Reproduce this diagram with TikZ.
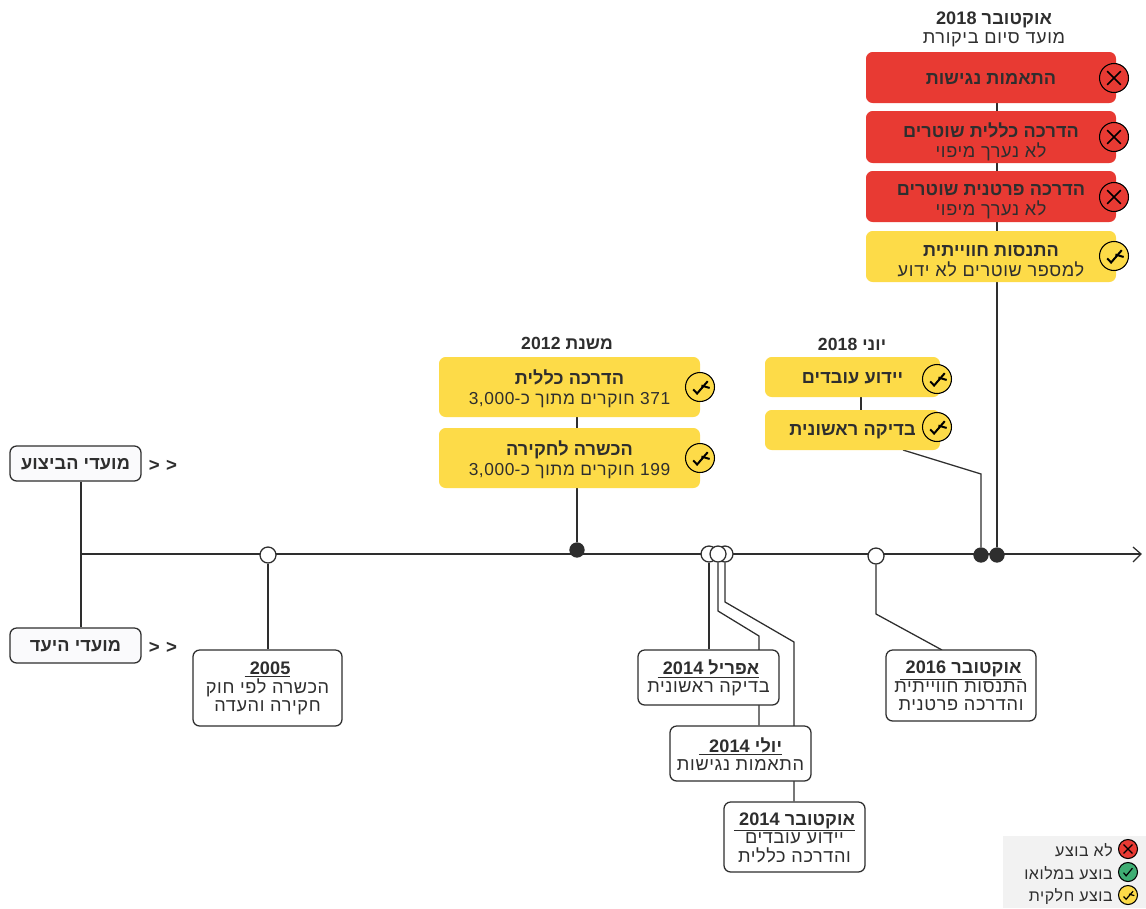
\documentclass[tikz,border=0pt]{standalone}
\usepackage{fontspec}
\setmainfont{Liberation Sans}
\newfontfamily\hebfont[Script=Hebrew,LetterSpace=3.5,BoldFeatures={LetterSpace=0.5}]{Liberation Sans}
\TeXXeTstate=1
\usetikzlibrary{calc,backgrounds}
\definecolor{ink}{HTML}{2E2E2E}
\definecolor{cred}{HTML}{E83A33}
\definecolor{cyel}{HTML}{FDDB48}
\definecolor{cgrn}{HTML}{3FAE73}
\definecolor{leg}{HTML}{F2F2F2}
\definecolor{soft}{HTML}{FAFAFC}
\newcommand{\hb}[1]{\beginR #1\endR}
\newcommand{\yr}[1]{\beginL #1\endL}
\newcommand{\ul}[1]{\underline{\beginR #1\endR}}
\newcommand{\smallline}{\mdseries\fontsize{13}{15}\selectfont}
\tikzset{
  x=0.75pt,y=-0.75pt,
  conn/.style={draw=ink,line width=0.95pt},
  txt/.style={font=\hebfont\fontsize{13.6}{14}\selectfont,text=ink,align=center,inner sep=0pt},
  legtxt/.style={txt,font=\hebfont\fontsize{12}{14}\selectfont,anchor=east},
  chev/.style={txt,font=\hebfont\bfseries\fontsize{14}{14}\selectfont},
  headtxt/.style={txt,font=\hebfont\bfseries\fontsize{13.2}{14}\selectfont},
  cardtext/.style={font=\hebfont\fontsize{13.6}{13.9}\selectfont,text=ink,align=center,inner sep=0pt,yshift=-0.4pt},
  softcardtext/.style={cardtext,yshift=0pt},
  yelboxtext/.style={font=\hebfont\fontsize{13.6}{15}\selectfont,text=ink,align=center,inner sep=0pt,yshift=-1.2pt},
  redboxtext/.style={yelboxtext},
  topboxtext/.style={yelboxtext,yshift=-2.7pt},
  card/.style={rounded corners=5pt,line width=0.95pt,draw=ink,fill=white},
  softcard/.style={card,fill=soft},
  yelbox/.style={rounded corners=5pt,fill=cyel},
  redbox/.style={rounded corners=5pt,fill=cred},
  topbox/.style={rounded corners=5pt},
  opendot/.style={circle,draw=ink,fill=white,line width=0.95pt,minimum size=12pt,inner sep=0pt},
  fulldot/.style={circle,fill=ink,minimum size=11.5pt,inner sep=0pt},
}
% \bx{name}{style}{x1}{y1}{x2}{y2}{text}
\newcommand{\bx}[7]{%
  \pgfmathsetmacro{\bw}{(#5-#3)*0.75}\pgfmathsetmacro{\bh}{(#6-#4)*0.75}%
  \pgfmathsetmacro{\bcx}{(#3+#5)/2}\pgfmathsetmacro{\bcy}{(#4+#6)/2}%
  \node[#2,minimum width=\bw pt,minimum height=\bh pt] (#1) at (\bcx,\bcy) {};
  \node[#2text] (#1t) at (\bcx,\bcy) {#7};}
% \ic{name}{kind x|c|p}{x}{y}{radius}{line width}
\newcommand{\ic}[6]{%
  \pgfmathsetmacro{\ir}{#5*1.5}\pgfmathsetmacro{\is}{#5/15}%
  \def\knd{#2}\def\kx{x}\def\kc{c}%
  \ifx\knd\kx\def\icf{cred}\else\ifx\knd\kc\def\icf{cgrn}\else\def\icf{cyel}\fi\fi
  \node[circle,draw=black,line width=0.8pt,fill=\icf,minimum size=\ir pt,inner sep=0pt] (#1) at (#3,#4) {};
  \begin{scope}[shift={(#1.center)},x=\is*0.75pt,y=-\is*0.75pt,line width=#6pt,black]
  \ifx\knd\kx \draw (-7,-7) -- (7,7) (7,-7) -- (-7,7);
  \else\ifx\knd\kc \draw (-7,1) -- (-3,6) -- (7,-6);
  \else \draw (-7,2.5) -- (-3,6.7) -- (8,-6); \draw (1.5,-1.5) -- (10,1); \fi\fi
  \end{scope}}
\begin{document}
\begin{tikzpicture}
\useasboundingbox (0,0) rectangle (1146,908);
% axis ends
\coordinate (tl) at (81,554);
\coordinate (tr) at (1141,554);
\coordinate (ah1) at (1133,547);
\coordinate (ah2) at (1133,562);
% left labels
\bx{exec}{softcard}{10}{446}{141}{481}{\bfseries\hb{מועדי הביצוע}}
\bx{goal}{softcard}{10}{628}{141}{663}{\bfseries\hb{מועדי היעד}}
\node[chev] (chevA) at (163,466) {<\,\,<};
\node[chev] (chevB) at (163,648) {<\,\,<};
% bottom cards
\bx{c2005}{card}{193}{650}{342}{726}{\bfseries\ul{\yr{2005}\ }\\\mdseries\hb{הכשרה לפי חוק}\\\hb{חקירה והעדה}}
\bx{capr}{card}{638}{650}{779}{705}{\bfseries\ul{אפריל \yr{2014}\ }\\\mdseries\hb{בדיקה ראשונית}}
\bx{cjul}{card}{670}{726}{811}{781}{\bfseries\ul{יולי \yr{2014}\ \ }\\\mdseries\hb{התאמות נגישות}}
\bx{coct}{card}{724}{802}{865}{872}{\bfseries\ul{אוקטובר \yr{2014}\ }\\\mdseries\hb{יידוע עובדים}\\\hb{והדרכה כללית}}
\bx{c2016}{card}{886}{650}{1036}{721}{\bfseries\ul{אוקטובר \yr{2016}\ }\\\mdseries\hb{התנסות חווייתית}\\\hb{והדרכה פרטנית}}
% 2012
\node[headtxt] (h2012) at (567,343) {\hb{משנת \yr{2012}}};
\bx{y1}{yelbox}{439}{357}{700}{417}{\bfseries\hb{הדרכה כללית}\\\smallline\hb{\yr{371} חוקרים מתוך כ-\yr{3,000}}}
\bx{y2}{yelbox}{439}{428}{700}{488}{\bfseries\hb{הכשרה לחקירה}\\\smallline\hb{\yr{199} חוקרים מתוך כ-\yr{3,000}}}
% June 2018
\node[headtxt] (hjun) at (852,344) {\hb{יוני \yr{2018}}};
\bx{y3}{yelbox}{765}{357}{940}{397}{\bfseries\hb{יידוע עובדים}}
\bx{y4}{yelbox}{765}{410}{940}{450}{\bfseries\hb{בדיקה ראשונית}}
% October 2018
\node[txt] (hoct) at (994,29) {\bfseries\hb{אוקטובר \yr{2018}}\\[0.4pt]\mdseries\hb{מועד סיום ביקורת}};
\bx{r1}{redbox}{866}{52}{1116}{103}{\bfseries\hb{התאמות נגישות}}
\bx{r2}{redbox}{866}{111}{1116}{163}{}
\node[topboxtext] (r2x) at (r2) {\bfseries\hb{הדרכה כללית שוטרים}\\\mdseries\hb{לא נערך מיפוי}};
\bx{r3}{redbox}{866}{171}{1116}{222}{}
\node[topboxtext] (r3x) at (r3) {\bfseries\hb{הדרכה פרטנית שוטרים}\\\mdseries\hb{לא נערך מיפוי}};
\bx{y5}{yelbox}{866}{231}{1116}{282}{}
\node[topboxtext,yshift=0.6pt] (y5x) at (y5) {\bfseries\hb{התנסות חווייתית}\\\mdseries\hb{למספר שוטרים לא ידוע}};
% dots
\node[opendot] (d2005) at (268,555) {};
\node[fulldot] (d2012) at (577,550) {};
\node[opendot] (dapr) at (709,554) {};
\node[opendot] (doct) at (725,554) {};
\node[opendot] (djul) at (718,554) {};
\node[opendot] (d2016) at (876,556) {};
\node[fulldot] (djun) at (981,555) {};
\node[fulldot] (dend) at (997,555) {};
% bends
\coordinate (bj1) at (718,611);
\coordinate (bj2) at (759,636);
\coordinate (bo1) at (725,602);
\coordinate (bo2) at (794,642);
\coordinate (b16a) at (876,614);
\coordinate (b16b) at (942,650);
\coordinate (bu1) at (903,450);
\coordinate (bu2) at (981,474);
\coordinate (jlink) at (861,400);
\begin{scope}[on background layer]
\draw[conn] (tl) -- (tr);
\draw[conn] (ah1) -- (tr) -- (ah2);
\draw[conn] (exec.south -| tl) -- (goal.north -| tl);
\draw[conn] (d2005) -- (d2005 |- c2005.north);
\draw[conn] (d2012) -- (d2012 |- y1.north);
\draw[conn] (dapr) -- (dapr |- capr.north);
\draw[conn] (djul) -- (bj1) -- (bj2) -- (bj2 |- cjul.north);
\draw[conn] (doct) -- (bo1) -- (bo2) -- (bo2 |- coct.north);
\draw[conn] (d2016) -- (b16a) -- (b16b);
\draw[conn] (djun) -- (bu2) -- (bu1);
\draw[conn] (dend) -- (dend |- r1.south);
\draw[conn] (y3.south -| jlink) -- (y4.north -| jlink);
\end{scope}
% icons
\ic{i1}{x}{1114}{78}{14.5}{1.3}
\ic{i2}{x}{1114}{137}{14.5}{1.3}
\ic{i3}{x}{1114}{197}{14.5}{1.3}
\ic{i4}{p}{1114}{256}{14.5}{1.5}
\ic{i5}{p}{700}{387}{14.5}{1.5}
\ic{i6}{p}{700}{458}{14.5}{1.5}
\ic{i7}{p}{937}{379}{14.5}{1.5}
\ic{i8}{p}{937}{427}{14.5}{1.5}
% legend
\node[fill=leg,minimum width=107.25pt,minimum height=54pt,inner sep=0pt] (legbg) at (1074.5,872) {};
\ic{l1}{x}{1128}{849}{9.5}{0.9}
\ic{l2}{c}{1128}{872}{9.5}{0.9}
\ic{l3}{p}{1128}{895}{9.5}{0.9}
\node[legtxt] (lt1) at (1113,850) {\hb{לא בוצע}};
\node[legtxt] (lt2) at (1113,873) {\hb{בוצע במלואו}};
\node[legtxt] (lt3) at (1113,896) {\hb{בוצע חלקית}};
\end{tikzpicture}
\end{document}
